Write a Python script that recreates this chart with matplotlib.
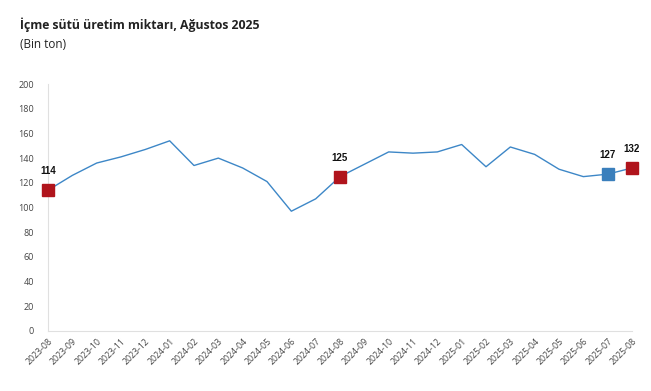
import matplotlib
matplotlib.use("Agg")
import matplotlib.pyplot as plt

months = ["2023-08","2023-09","2023-10","2023-11","2023-12","2024-01","2024-02","2024-03",
          "2024-04","2024-05","2024-06","2024-07","2024-08","2024-09","2024-10","2024-11",
          "2024-12","2025-01","2025-02","2025-03","2025-04","2025-05","2025-06","2025-07","2025-08"]
values = [114, 126, 136, 141, 147, 154, 134, 140, 132, 121, 97, 107, 125, 135, 145, 144,
          145, 151, 133, 149, 143, 131, 125, 127, 132]
red_idx = [0, 12, 24]
blue_idx = [23]
yticks = [0, 20, 40, 60, 80, 100, 120, 140, 160, 180, 200]

title = "İçme sütü üretim miktarı, Ağustos 2025"
subtitle = "(Bin ton)"

plt.rcParams['font.family'] = ['Open Sans', 'DejaVu Sans']

fig = plt.figure(figsize=(6.51, 3.91), dpi=100)
ax = fig.add_axes([48/651, 1-331/391, (632-48)/651, (331-84)/391])

x = list(range(len(months)))
ax.plot(x, values, color="#3d87c7", lw=1.0, zorder=2)
for i in red_idx:
    ax.plot(x[i], values[i], marker="s", ms=8.5, color="#b0141c", mec="#b0141c", zorder=3, clip_on=False)
for i in blue_idx:
    ax.plot(x[i], values[i], marker="s", ms=8.5, color="#3a7fbc", mec="#3a7fbc", zorder=3, clip_on=False)
for i in red_idx + blue_idx:
    ax.annotate(str(values[i]), (x[i], values[i]), xytext=(0, 10), textcoords="offset points",
                ha="center", va="bottom", fontsize=7, fontweight="bold",
                family=["Liberation Sans"], color="#111111")

ax.set_xlim(0, len(months)-1)
ax.set_ylim(0, 200)
ax.set_yticks(yticks)
ax.set_yticklabels([str(v) for v in yticks], fontsize=6.5, color="#444444")
ax.set_xticks(x)
ax.set_xticklabels(months, rotation=45, ha="right", rotation_mode="anchor", fontsize=6.3, color="#444444")
ax.tick_params(axis="both", length=0, pad=4)
ax.tick_params(axis="y", pad=10)
for s in ["top", "right"]:
    ax.spines[s].set_visible(False)
for s in ["left", "bottom"]:
    ax.spines[s].set_color("#e0e0e0")
    ax.spines[s].set_linewidth(0.8)

fig.text(20/651, 1-25/391, title, fontsize=8.8, fontweight="bold", color="#222222", va="center", ha="left")
fig.text(20/651, 1-45/391, subtitle, fontsize=8.5, color="#222222", va="center", ha="left")

fig.savefig("out.png", dpi=100)
